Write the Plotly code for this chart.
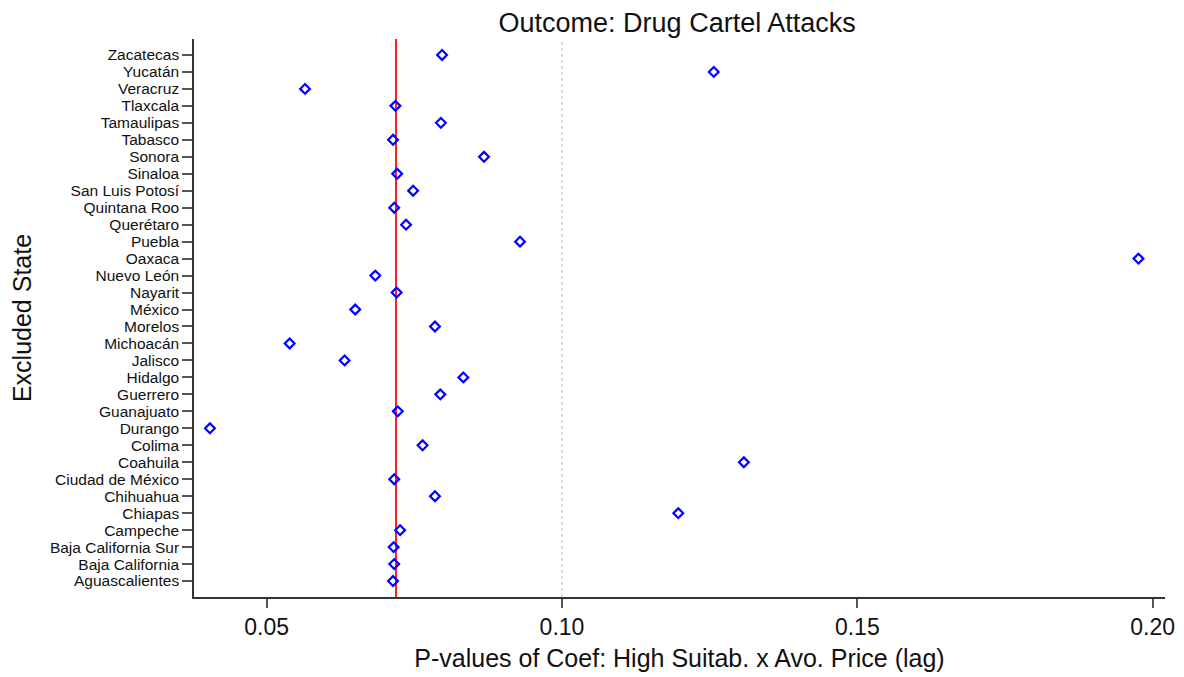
import plotly.graph_objects as go

states = ["Aguascalientes", "Baja California", "Baja California Sur", "Campeche", "Chiapas",
          "Chihuahua", "Ciudad de México", "Coahuila", "Colima", "Durango", "Guanajuato",
          "Guerrero", "Hidalgo", "Jalisco", "Michoacán", "Morelos", "México", "Nayarit",
          "Nuevo León", "Oaxaca", "Puebla", "Querétaro", "Quintana Roo", "San Luis Potosí",
          "Sinaloa", "Sonora", "Tabasco", "Tamaulipas", "Tlaxcala", "Veracruz", "Yucatán",
          "Zacatecas"]
pvalues = [0.0714, 0.0716, 0.0715, 0.0726, 0.1197,
           0.0785, 0.0716, 0.1308, 0.0764, 0.0404, 0.0722,
           0.0794, 0.0833, 0.0632, 0.0539, 0.0785, 0.0650, 0.0720,
           0.0684, 0.1976, 0.0929, 0.0736, 0.0716, 0.0748,
           0.0721, 0.0868, 0.0714, 0.0795, 0.0718, 0.0565, 0.1257,
           0.0797]
baseline_p = 0.0719
ref_p = 0.10
x_ticks = [0.05, 0.10, 0.15, 0.20]
x_tick_labels = ["0.05", "0.10", "0.15", "0.20"]

y_idx = list(range(len(states)))

fig = go.Figure()
fig.add_trace(go.Scatter(
    x=pvalues, y=y_idx, mode="markers",
    marker=dict(symbol="diamond-open", size=7.5, color="#0000ff", line=dict(width=2.2, color="#0000ff")),
    showlegend=False, cliponaxis=False,
))

fig.add_shape(type="line", xref="x", yref="paper", x0=ref_p, x1=ref_p, y0=0, y1=1,
              line=dict(color="#c8c8c8", width=1.2, dash="dot"), layer="below")
fig.add_shape(type="line", xref="x", yref="paper", x0=baseline_p, x1=baseline_p, y0=0, y1=1,
              line=dict(color="#ff2020", width=2), layer="below")

font_family = "Liberation Sans, Arial, sans-serif"
fig.update_layout(
    width=1176, height=669,
    margin=dict(l=186, r=19, t=31, b=80),
    paper_bgcolor="white", plot_bgcolor="white",
    font=dict(family=font_family, color="#111111"),
    title=dict(text="Outcome: Drug Cartel Attacks", x=0.569, xanchor="center",
               y=0.979, yanchor="middle", font=dict(size=27, color="#111111")),
    xaxis=dict(
        range=[0.0377, 0.2021], tickvals=x_ticks, ticktext=x_tick_labels,
        showgrid=False, zeroline=False, showline=True, linecolor="#333333", linewidth=1.5,
        ticks="outside", ticklen=9, tickcolor="#555555", tickwidth=1.5,
        tickfont=dict(size=23), automargin=False,
        title=dict(text="P-values of Coef: High Suitab. x Avo. Price (lag)", font=dict(size=25), standoff=10),
    ),
    yaxis=dict(
        range=[-0.94, 31.94], tickvals=y_idx, ticktext=states,
        showgrid=False, zeroline=False, showline=True, linecolor="#333333", linewidth=1.5,
        ticks="outside", ticklen=10, tickcolor="#555555", tickwidth=1.5,
        tickfont=dict(size=15.5), automargin=False,
        title=dict(text="Excluded State", font=dict(size=25), standoff=14),
    ),
)

fig.write_html("out.html")
